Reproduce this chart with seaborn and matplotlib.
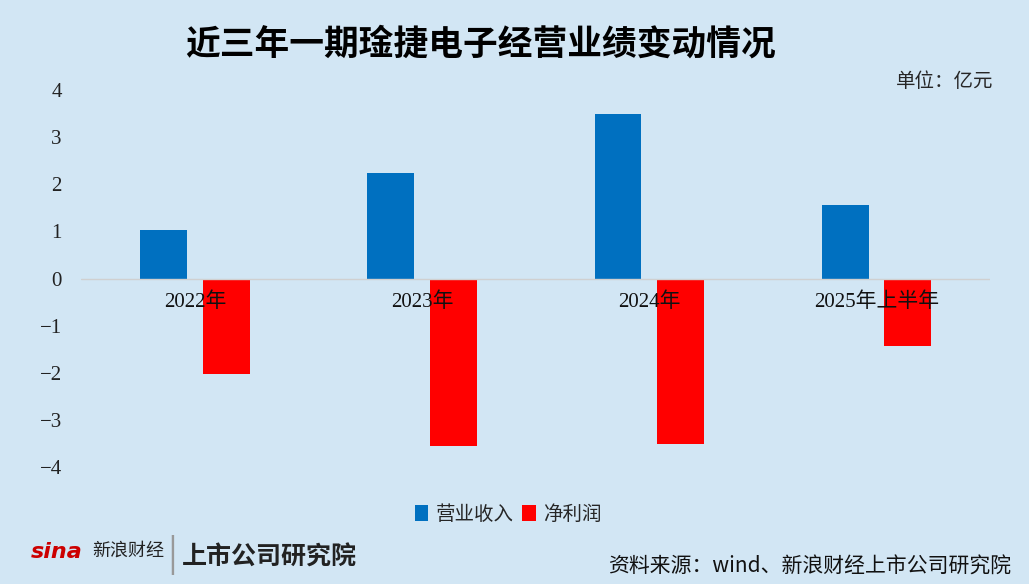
import matplotlib
matplotlib.use("Agg")
import matplotlib.pyplot as plt
import pandas as pd
import seaborn as sns

# values in 亿元
periods = ["2022年", "2023年", "2024年", "2025年上半年"]
revenue = [1.04, 2.23, 3.49, 1.57]
net_profit = [-2.03, -3.55, -3.50, -1.43]
series_names = ["营业收入", "净利润"]
y_ticks = [-4, -3, -2, -1, 0, 1, 2, 3, 4]

BG = "#D2E6F4"
COLORS = ["#0070C0", "#FF0000"]
CJK = ["Noto Sans CJK SC", "DejaVu Sans"]
SERIF = ["Liberation Serif", "Noto Sans CJK SC"]

df = pd.DataFrame({
    "period": periods * 2,
    "value": revenue + net_profit,
    "series": [series_names[0]] * len(periods) + [series_names[1]] * len(periods),
})

sns.set_theme(style="white")
plt.rcParams["font.family"] = CJK
plt.rcParams["axes.unicode_minus"] = True

fig = plt.figure(figsize=(10.29, 5.84), dpi=100, facecolor=BG)
ax = fig.add_axes([0.079, 0.2, 0.883, 0.646])
ax.set_facecolor(BG)

sns.barplot(data=df, x="period", y="value", hue="series", palette=COLORS,
            width=0.55, gap=0.25, saturation=1, linewidth=0, ax=ax, legend=True)

ax.set_ylim(-4, 4)
ax.set_yticks(y_ticks)
ax.set_yticklabels([str(t).replace("-", "\u2212") for t in y_ticks],
                   family=SERIF, fontsize=15, color="#222222")
ax.tick_params(axis="y", length=0, pad=14)
ax.set_xticks([])
ax.set_xlabel("")
ax.set_ylabel("")
for s in ax.spines.values():
    s.set_visible(False)
ax.axhline(0, color="#D0D0D0", lw=1, zorder=1)

# category labels sit just under the zero line, over the bars
for i, p in enumerate(periods):
    ax.text(i, -0.3, p, ha="center", va="top", family=SERIF,
            fontsize=15, color="#111111", zorder=5)

leg = ax.legend(loc="upper center", bbox_to_anchor=(0.47, -0.05), ncol=2,
                frameon=False, fontsize=14, handlelength=0.7, handleheight=0.9,
                handletextpad=0.4, columnspacing=0.4)

fig.text(0.467, 0.925, "近三年一期琻捷电子经营业绩变动情况", ha="center", va="center",
         fontsize=25, fontweight="bold", color="black", family=CJK)
fig.text(0.965, 0.86, "单位：亿元", ha="right", va="center", fontsize=14, family=CJK)

# footer: logos as text and the source note
fig.text(0.03, 0.055, "sina", ha="left", va="center", fontsize=16, fontweight="bold",
         fontstyle="italic", color="#CC0000", family=["DejaVu Sans"])
fig.text(0.09, 0.057, "新浪财经", ha="left", va="center", fontsize=13, color="#222222", family=CJK)
fig.text(0.163, 0.05, "|", ha="left", va="center", fontsize=26, color="#999999")
fig.text(0.177, 0.045, "上市公司研究院", ha="left", va="center", fontsize=18,
         fontweight="bold", fontstyle="italic", color="#222222", family=CJK)
fig.text(0.983, 0.03, "资料来源：wind、新浪财经上市公司研究院", ha="right", va="center",
         fontsize=15, color="#111111", family=CJK)

fig.savefig("out.png", dpi=100, facecolor=BG)
